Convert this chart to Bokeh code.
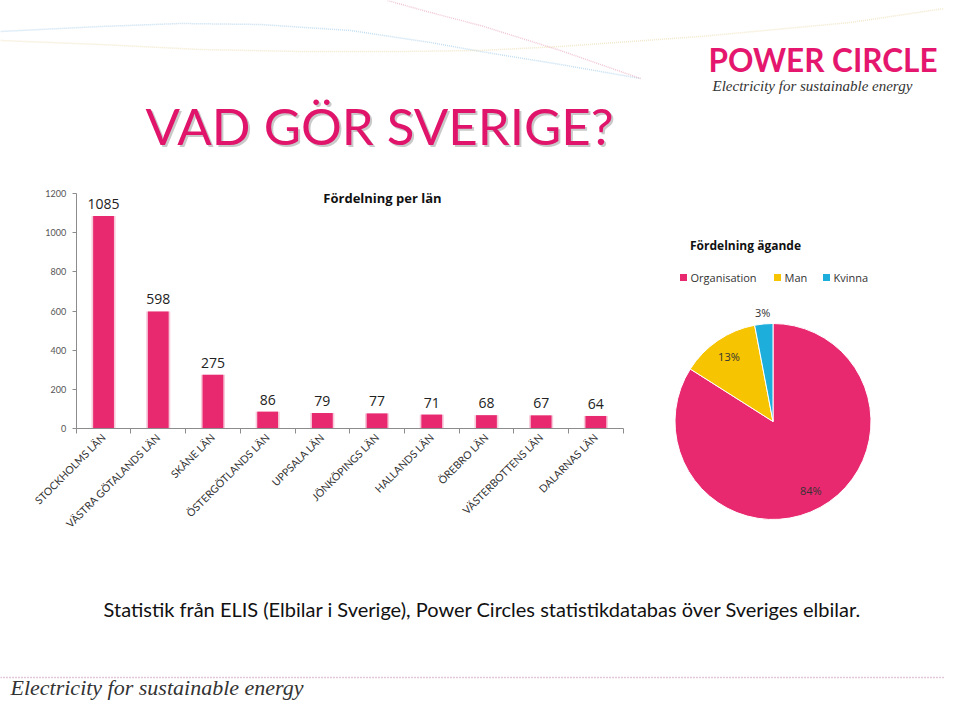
from math import pi, cos, sin, radians
from bokeh.plotting import figure
from bokeh.models import Range1d, LinearAxis, FixedTicker, ColumnDataSource
from bokeh.core.properties import value
from bokeh.embed import file_html
from bokeh.resources import INLINE

# ---------------- data ----------------
lan = ["STOCKHOLMS LÄN", "VÄSTRA GÖTALANDS LÄN", "SKÅNE LÄN", "ÖSTERGÖTLANDS LÄN",
       "UPPSALA LÄN", "JÖNKÖPINGS LÄN", "HALLANDS LÄN", "ÖREBRO LÄN",
       "VÄSTERBOTTENS LÄN", "DALARNAS LÄN"]
antal = [1085, 598, 275, 86, 79, 77, 71, 68, 67, 64]
y_ticks = [0, 200, 400, 600, 800, 1000, 1200]
agare = ["Organisation", "Man", "Kvinna"]
andel = [84, 13, 3]

PINK = "#E8286F"
TITLE_PINK = "#E0146A"
PIE_COLORS = ["#E8296F", "#F6C400", "#1EAEDB"]
FONT = "Lato"
AX = "#8C8C8C"

# One canvas; its frame covers the whole drawing (pixel coords, y downwards -> negative)
W, H = 944, 701
p = figure(width=W, height=H, x_range=Range1d(0, W), y_range=Range1d(-H, 0),
           output_backend="svg", toolbar_location=None, x_axis_location=None,
           y_axis_location=None, min_border=0, outline_line_color=None,
           background_fill_color="white", border_fill_color="white")
for g in p.grid:
    g.visible = False

# bar-chart scales: category i centred at i, band 54.7 px, axis origin at (75.7, 428)
BAND, X0, Y0, KY = 54.7, 75.7, 428.0, 235.0 / 1200.0
p.extra_x_ranges = {"bx": Range1d((0 - X0) / BAND - 0.5, (W - X0) / BAND - 0.5)}
p.extra_y_ranges = {"by": Range1d(-(H - Y0) / KY, Y0 / KY)}
n = len(lan)
idx = list(range(n))

# ---------------- decorations / headings ----------------
p.line([0, 100, 180, 260, 350, 430, 480, 560, 640], [-31, -26, -23, -24, -30, -42, -51, -64, -78],
       line_color="#9CC8E8", line_dash="1 1", line_width=1.5, line_alpha=0.6)
p.line([0, 100, 200, 300, 400, 480, 560, 700, 850, 944], [-40, -44, -49, -51, -51, -50, -46, -36, -22, -8],
       line_color="#EAD9A8", line_dash="1 1", line_width=1.5, line_alpha=0.6)
p.line([387, 430, 480, 560, 640], [0, -12, -25, -50, -78],
       line_color="#E7A0B8", line_dash="1 1", line_width=1.5, line_alpha=0.6)
p.text(x=[147], y=[-127], text=["VAD GÖR SVERIGE?"], text_font=value(FONT),
       text_font_size=value("51px"), text_color="#888888", text_alpha=0.45,
       text_baseline="middle", text_align="left")
p.text(x=[145], y=[-125], text=["VAD GÖR SVERIGE?"], text_font=value(FONT),
       text_font_size=value("51px"), text_color=TITLE_PINK,
       text_baseline="middle", text_align="left")
p.text(x=[708], y=[-59], text=["POWER CIRCLE"], text_font=value(FONT),
       text_font_size=value("31.5px"), text_font_style="bold", text_color="#E5166E",
       text_baseline="middle", text_align="left")
p.text(x=[712], y=[-85], text=["Electricity for sustainable energy"],
       text_font=value("Liberation Serif"), text_font_size=value("15px"),
       text_font_style="italic", text_color="#333333",
       text_baseline="middle", text_align="left")

# ---------------- bar chart ----------------
yax = LinearAxis(x_range_name="bx", y_range_name="by", fixed_location=-0.5, bounds=(0, 1200),
                 ticker=FixedTicker(ticks=y_ticks), major_tick_out=4, major_tick_in=0,
                 minor_tick_line_color=None, axis_line_color=AX, major_tick_line_color=AX,
                 major_label_text_font_size="9px", major_label_text_color="#555555",
                 major_label_text_font=FONT, major_label_standoff=6)
p.add_layout(yax, "left")

tick_axis = LinearAxis(x_range_name="bx", y_range_name="by", fixed_location=0,
                       bounds=(-0.5, n - 0.5),
                       ticker=FixedTicker(ticks=[i - 0.5 for i in range(n + 1)]),
                       major_tick_out=5, major_tick_in=0, minor_tick_line_color=None,
                       axis_line_color=AX, major_tick_line_color=AX,
                       major_label_text_font_size="0px", major_label_text_alpha=0)
p.add_layout(tick_axis, "below")

lab_axis = LinearAxis(x_range_name="bx", y_range_name="by", fixed_location=0,
                      ticker=FixedTicker(ticks=idx),
                      major_label_overrides={i: name for i, name in zip(idx, lan)},
                      axis_line_color=None, major_tick_line_color=None,
                      minor_tick_line_color=None, major_tick_out=0, major_tick_in=0,
                      major_label_orientation=pi / 4, major_label_text_font_size="10.5px",
                      major_label_text_color="#333333", major_label_text_font=FONT,
                      major_label_standoff=7)
p.add_layout(lab_axis, "below")

src = ColumnDataSource(dict(i=idx, lan=lan, antal=antal, lbl=[str(v) for v in antal]))
p.vbar(x="i", top="antal", width=0.44, source=src, fill_color="#F7CADA", line_color=None,
       x_range_name="bx", y_range_name="by")
p.vbar(x="i", top="antal", width=0.38, source=src, fill_color=PINK, line_color=None,
       x_range_name="bx", y_range_name="by")
p.text(x="i", y="antal", text="lbl", source=src, y_offset=-7, text_align="center",
       text_baseline="bottom", text_font=value("Open Sans"), text_font_size=value("14px"),
       text_color="#222222", x_range_name="bx", y_range_name="by")
p.text(x=[382], y=[-197], text=["Fördelning per län"],
       text_font=value("Open Sans"), text_font_size=value("13px"), text_font_style="bold",
       text_align="center", text_baseline="middle", text_color="#111111")

# ---------------- pie chart ----------------
cx, cy, R = 772.5, -421.0, 98.0
total = float(sum(andel))
starts, ends, lx, ly, labels = [], [], [], [], []
acc = 0.0
for v in andel:
    a0 = 90.0 - 360.0 * acc / total
    acc += v
    a1 = 90.0 - 360.0 * acc / total
    starts.append(radians(a0))
    ends.append(radians(a1))
    mid = radians((a0 + a1) / 2.0)
    rr = 0.8 * R if v / total > 0.05 else 1.12 * R
    lx.append(cx + rr * cos(mid))
    ly.append(cy + rr * sin(mid))
    labels.append(f"{v}%")
psrc = ColumnDataSource(dict(agare=agare, start=starts, end=ends, color=PIE_COLORS,
                             lx=lx, ly=ly, lbl=labels))
p.wedge(x=cx, y=cy, radius=R, start_angle="start", end_angle="end", direction="clock",
        fill_color="color", line_color="white", line_width=1, source=psrc)
p.text(x="lx", y="ly", text="lbl", source=psrc, text_align="center", text_baseline="middle",
       text_font=value("Open Sans"), text_font_size=value("11px"), text_color="#333333")
p.text(x=[745], y=[-245], text=["Fördelning ägande"], text_font=value("Open Sans"),
       text_font_size=value("12px"), text_font_style="bold", text_align="center",
       text_baseline="middle", text_color="#111111")
leg_x = [683, 777, 826]
p.rect(x=leg_x, y=[-277] * 3, width=7, height=7, fill_color=PIE_COLORS, line_color=None)
p.text(x=[x + 7 for x in leg_x], y=[-277] * 3, text=agare, text_font=value("Open Sans"),
       text_font_size=value("11px"), text_baseline="middle", text_align="left",
       text_color="#333333")

# ---------------- caption and footer ----------------
p.text(x=[482], y=[-608], text=["Statistik från ELIS (Elbilar i Sverige), Power Circles statistikdatabas över Sveriges elbilar."],
       text_font=value(FONT), text_font_size=value("20px"), text_color="#111111",
       text_align="center", text_baseline="middle")
p.line([0, W], [-677, -677], line_color="#C58FB0", line_dash="1 2", line_width=1.5)
p.text(x=[10], y=[-687], text=["Electricity for sustainable energy"],
       text_font=value("Liberation Serif"), text_font_size=value("22px"),
       text_font_style="italic", text_color="#333333",
       text_baseline="middle", text_align="left")

open("out.html", "w").write(file_html(p, INLINE))
